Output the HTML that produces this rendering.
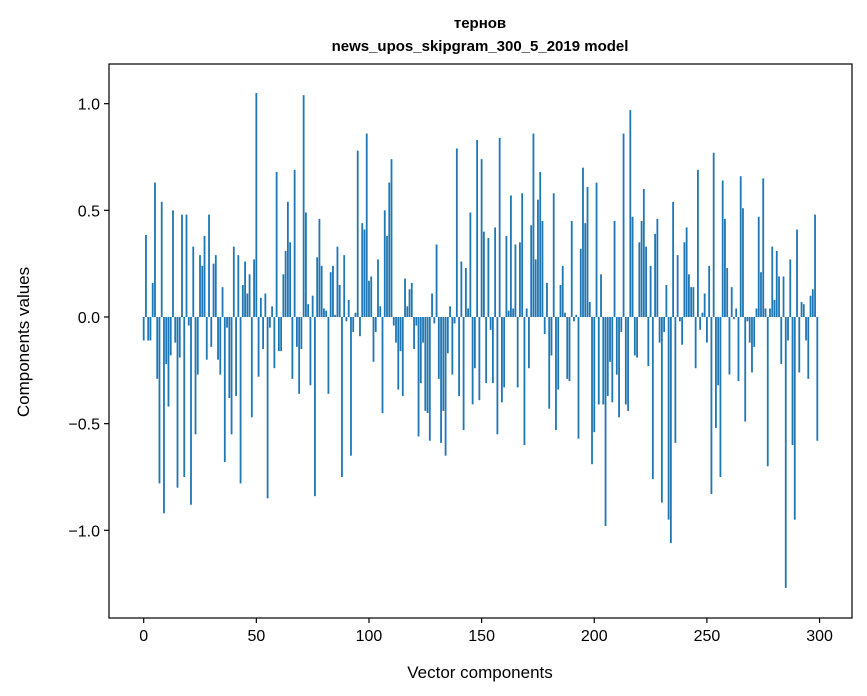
<!DOCTYPE html>
<html><head><meta charset="utf-8"><style>
html,body{margin:0;padding:0;background:#fff;}
svg{display:block;font-family:"Liberation Sans","DejaVu Sans",sans-serif;}
</style></head><body>
<svg id="chart" width="867" height="696" viewBox="0 0 867 696" xmlns="http://www.w3.org/2000/svg">
<rect width="867" height="696" fill="#fff"/>
<text x="480" y="28" text-anchor="middle" font-size="15" font-weight="bold" font-family="Liberation Sans, DejaVu Sans, sans-serif">тернов</text>
<text x="480" y="51" text-anchor="middle" font-size="15" font-weight="bold">news_upos_skipgram_300_5_2019 model</text>
<g id="bars"></g>
<g id="axes"></g>
<text x="480" y="678" text-anchor="middle" font-size="17">Vector components</text>
<text transform="translate(29,342) rotate(-90)" text-anchor="middle" font-size="17">Components values</text>
</svg>
<script>
const values = [
-0.11,0.385,-0.11,-0.11,0.16,0.63,-0.29,-0.78,0.54,-0.92,
-0.22,-0.42,-0.18,0.50,-0.12,-0.80,-0.19,0.48,-0.75,0.48,
-0.04,-0.88,0.33,-0.55,-0.27,0.29,0.24,0.38,-0.20,0.48,
-0.14,0.25,0.29,-0.20,-0.27,0.14,-0.68,-0.05,-0.38,-0.55,
0.33,-0.37,0.29,-0.78,0.15,0.26,0.11,0.20,-0.47,0.27,
1.05,-0.28,0.09,-0.15,0.11,-0.85,-0.05,0.05,-0.24,0.68,
-0.16,-0.16,0.20,0.31,0.54,0.35,-0.29,0.69,-0.14,-0.36,
-0.15,1.04,0.49,0.06,-0.32,0.10,-0.84,0.28,0.46,0.24,
0.04,0.03,-0.36,0.21,0.24,0.01,0.33,0.15,-0.75,0.29,
-0.02,0.08,-0.65,-0.07,0.02,0.78,-0.09,0.44,0.41,0.86,
0.17,0.19,-0.21,-0.07,0.27,0.05,-0.45,0.50,0.38,0.63,
0.74,-0.04,-0.12,-0.34,-0.16,-0.37,0.18,0.05,0.13,0.16,
-0.15,-0.04,-0.56,-0.31,-0.12,-0.44,-0.45,-0.58,0.11,-0.03,
0.34,-0.29,-0.59,-0.44,-0.65,-0.17,0.05,-0.27,-0.03,0.79,
-0.37,0.26,-0.53,0.23,0.04,0.49,-0.41,-0.24,0.83,-0.39,
0.74,0.40,-0.31,0.37,-0.06,-0.31,0.42,-0.55,0.84,-0.40,
-0.33,0.38,0.03,0.57,0.04,0.34,-0.33,0.35,0.58,-0.60,
0.04,-0.24,0.43,0.86,0.27,0.55,0.68,0.45,-0.08,0.16,
-0.43,-0.18,0.58,-0.53,-0.34,0.15,0.24,0.02,-0.29,-0.30,
0.45,-0.02,0.01,-0.57,0.32,0.70,0.44,0.61,0.07,-0.69,
-0.54,0.63,-0.41,0.20,-0.41,-0.98,-0.37,-0.21,-0.40,0.45,
-0.27,-0.47,-0.07,0.86,-0.41,-0.44,0.97,0.47,-0.18,-0.19,
0.35,0.45,0.60,0.33,-0.23,0.24,-0.76,0.39,0.46,-0.12,
-0.87,-0.07,0.15,-0.95,-1.06,0.54,-0.59,0.29,-0.02,-0.13,
0.35,0.42,0.20,0.14,0.14,-0.24,0.69,-0.06,0.02,0.11,
-0.12,0.24,-0.83,0.77,-0.52,-0.32,-0.75,0.64,0.46,0.23,
-0.27,0.14,-0.01,0.04,-0.30,0.66,0.51,-0.49,-0.02,-0.12,
-0.26,-0.14,0.04,0.47,0.21,0.65,0.04,-0.70,0.04,0.33,
0.08,0.31,0.19,-0.22,0.19,-1.27,-0.11,0.27,-0.60,-0.95,
0.41,-0.26,0.07,0.06,-0.11,-0.29,0.10,0.13,0.48,-0.58
];
const xTicks = [0,50,100,150,200,250,300];
const yTicks = [-1.0,-0.5,0.0,0.5,1.0];
const yTickLabels = ["\u22121.0","\u22120.5","0.0","0.5","1.0"];

const NS = "http://www.w3.org/2000/svg";
const L = 109, R = 852, T = 64, B = 618;
const xMin = -15.4, xMax = 314.4;
const yMin = -1.411, yMax = 1.186;
function xs(v){ return L + (v - xMin) / (xMax - xMin) * (R - L); }
function ys(v){ return B - (v - yMin) / (yMax - yMin) * (B - T); }
function mk(tag, attrs, parent){ const e = document.createElementNS(NS, tag); for (const k in attrs) e.setAttribute(k, attrs[k]); parent.appendChild(e); return e; }

const gb = document.getElementById('bars');
values.forEach((v, i) => {
  const x0 = xs(i - 0.4), x1 = xs(i + 0.4);
  const y0 = ys(Math.max(v, 0)), y1 = ys(Math.min(v, 0));
  const r = mk('rect', {x: x0, y: y0, width: x1 - x0, height: Math.max(y1 - y0, 0.01), fill: '#1f77b4'}, gb);
  
  
});

const ga = document.getElementById('axes');
const frame = mk('rect', {x: L, y: T, width: R - L, height: B - T, fill: 'none', stroke: '#000', 'stroke-width': 1.2}, ga);


xTicks.forEach(t => {
  const x = xs(t);
  const ln = mk('line', {x1: x, x2: x, y1: B, y2: B + 5, stroke: '#000', 'stroke-width': 1.2}, ga);
  
  
  const tx = mk('text', {x: x, y: B + 23, 'text-anchor': 'middle', 'font-size': 16}, ga);
  tx.textContent = String(t);
  
  
});
yTicks.forEach((t, i) => {
  const y = ys(t);
  const ln = mk('line', {x1: L - 5, x2: L, y1: y, y2: y, stroke: '#000', 'stroke-width': 1.2}, ga);
  
  
  const tx = mk('text', {x: L - 9, y: y + 6, 'text-anchor': 'end', 'font-size': 16}, ga);
  tx.textContent = yTickLabels[i];
  
  
});
</script>
</body></html>
